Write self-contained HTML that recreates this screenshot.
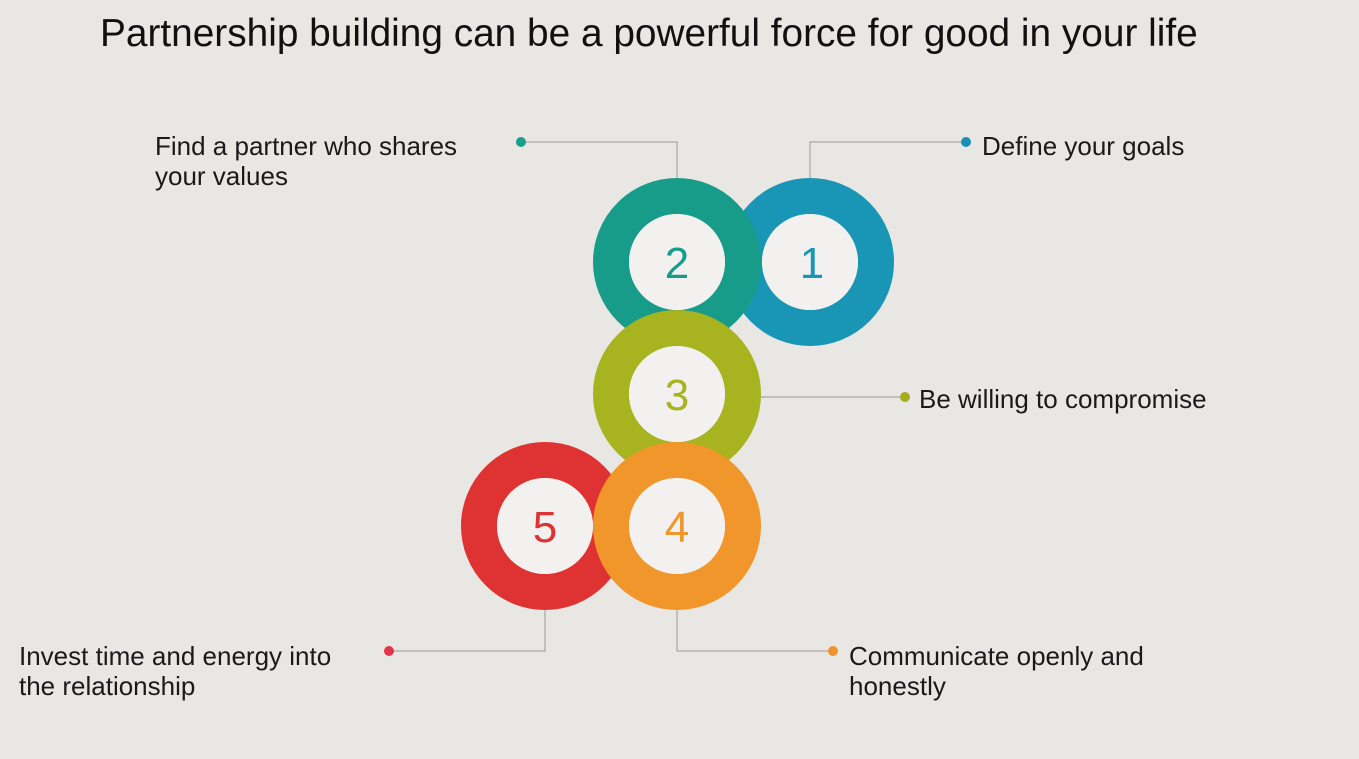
<!DOCTYPE html>
<html><head><meta charset="utf-8"><style>
html,body{margin:0;padding:0;}
body{width:1359px;height:759px;background:#e8e7e3;position:relative;overflow:hidden;font-family:"Liberation Sans",sans-serif;}
.t{position:absolute;font-size:26px;color:#1a1a1a;line-height:30px;}
</style></head><body>
<div style="position:absolute;left:100px;top:12px;font-size:38.8px;color:#111;white-space:nowrap;">Partnership building can be a powerful force for good in your life</div>
<svg width="1359" height="759" style="position:absolute;left:0;top:0">
<g stroke="#9a9a9a" stroke-width="1" fill="none">
<polyline points="677,178 677,142 521,142"/>
<polyline points="810,178 810,142 966,142"/>
<polyline points="760,397 905,397"/>
<polyline points="677,610 677,651 833,651"/>
<polyline points="545,610 545,651 389,651"/>
</g>
<circle cx="521" cy="142" r="5" fill="#16a08c"/>
<circle cx="966" cy="142" r="5" fill="#1a8fb5"/>
<circle cx="905" cy="397" r="5" fill="#a5ad1c"/>
<circle cx="833" cy="651" r="5" fill="#ef9428"/>
<circle cx="389" cy="651" r="5" fill="#e2344a"/>
<g>
<circle cx="810" cy="262" r="66" fill="none" stroke="#1996b6" stroke-width="36"/>
<circle cx="677" cy="262" r="66" fill="none" stroke="#189c8a" stroke-width="36"/>
<circle cx="677" cy="394" r="66" fill="none" stroke="#a8b320" stroke-width="36"/>
<circle cx="545" cy="526" r="66" fill="none" stroke="#df3232" stroke-width="36"/>
<circle cx="677" cy="526" r="66" fill="none" stroke="#f0962a" stroke-width="36"/>
</g>
<g fill="#f2f1ef">
<circle cx="810" cy="262" r="48"/>
<circle cx="677" cy="262" r="48"/>
<circle cx="677" cy="394" r="48"/>
<circle cx="677" cy="526" r="48"/>
<circle cx="545" cy="526" r="48"/>
</g>
<g font-family="Liberation Sans, sans-serif" font-size="44" text-anchor="middle">
<text x="812" y="278" fill="#1996b6">1</text>
<text x="677" y="278" fill="#189c8a">2</text>
<text x="677" y="410" fill="#a8b320">3</text>
<text x="677" y="542" fill="#f0962a">4</text>
<text x="545" y="542" fill="#df3232">5</text>
</g>
</svg>
<div class="t" style="left:155px;top:131px;">Find a partner who shares<br>your values</div>
<div class="t" style="left:982px;top:131px;">Define your goals</div>
<div class="t" style="left:919px;top:384px;">Be willing to compromise</div>
<div class="t" style="left:849px;top:641px;">Communicate openly and<br>honestly</div>
<div class="t" style="left:19px;top:641px;">Invest time and energy into<br>the relationship</div>
</body></html>
